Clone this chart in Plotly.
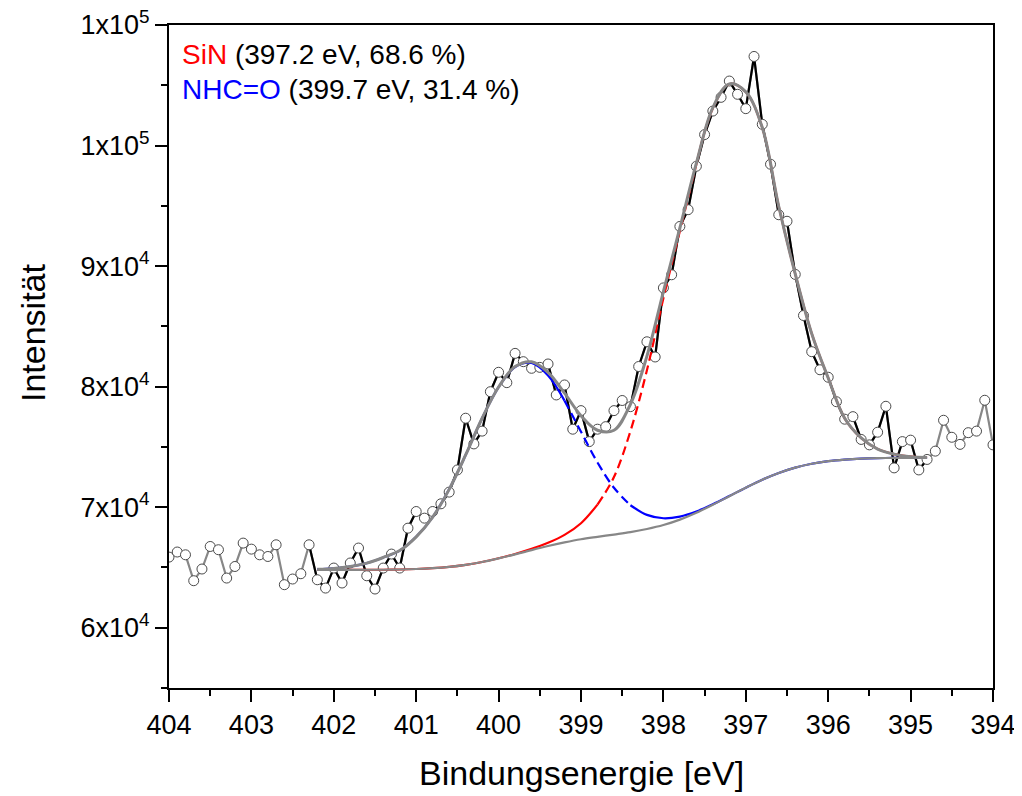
import plotly.graph_objects as go

# ---------------- data ----------------
energy = [404.0, 403.9, 403.8, 403.7, 403.6, 403.5, 403.4, 403.3, 403.2, 403.1,
          403.0, 402.9, 402.8, 402.7, 402.6, 402.5, 402.4, 402.3, 402.2, 402.1,
          402.0, 401.9, 401.8, 401.7, 401.6, 401.5, 401.4, 401.3, 401.2, 401.1,
          401.0, 400.9, 400.8, 400.7, 400.6, 400.5, 400.4, 400.3, 400.2, 400.1,
          400.0, 399.9, 399.8, 399.7, 399.6, 399.5, 399.4, 399.3, 399.2, 399.1,
          399.0, 398.9, 398.8, 398.7, 398.6, 398.5, 398.4, 398.3, 398.2, 398.1,
          398.0, 397.9, 397.8, 397.7, 397.6, 397.5, 397.4, 397.3, 397.2, 397.1,
          397.0, 396.9, 396.8, 396.7, 396.6, 396.5, 396.4, 396.3, 396.2, 396.1,
          396.0, 395.9, 395.8, 395.7, 395.6, 395.5, 395.4, 395.3, 395.2, 395.1,
          395.0, 394.9, 394.8, 394.7, 394.6, 394.5, 394.4, 394.3, 394.2, 394.1,
          394.0]

intensity = [65860, 66280, 66050, 63900, 64870, 66740, 66470, 64120, 65080, 67020,
             66520, 66050, 65910, 66880, 63570, 64040, 64480, 66880, 63980, 63290,
             64950, 63710, 65370, 66610, 64310, 63210, 64950, 66110, 64950, 68260,
             69640, 69090, 69640, 70280, 71250, 73090, 77380, 75250, 76310, 79580,
             81190, 80330, 82760, 82070, 81520, 81600, 81880, 79310, 80140, 76470,
             78010, 75440, 76470, 76680, 78010, 78850, 78340, 81670, 83720, 82460,
             88190, 89280, 93290, 94680, 98280, 100910, 102860, 104000, 105350, 104250,
             103060, 107390, 101760, 98450, 94260, 93720, 89310, 85900, 82900, 81400,
             80780, 78750, 77300, 77510, 75620, 75170, 76220, 78370, 73260, 75440,
             75560, 73090, 73960, 74650, 77210, 75800, 75210, 76180, 76310, 78870,
             75170]

# fit region of the measured data (black line)
fit_data_high = 402.3
fit_data_low = 394.8

# fitted curves (read at 0.2 eV steps)
fit_energy = [402.2, 402.0, 401.8, 401.6, 401.4, 401.2, 401.0, 400.8, 400.6, 400.4,
              400.2, 400.0, 399.8, 399.6, 399.4, 399.2, 399.0, 398.8, 398.6, 398.4,
              398.2, 398.0, 397.8, 397.6, 397.4, 397.2, 397.0, 396.8, 396.6, 396.4,
              396.2, 396.0, 395.8, 395.6, 395.4, 395.2, 395.0, 394.8]

background = [64800, 64800, 64800, 64810, 64810, 64830, 64870, 64940, 65050, 65220,
              65450, 65750, 66080, 66440, 66780, 67080, 67340, 67540, 67730, 67930,
              68190, 68520, 68970, 69540, 70200, 70910, 71620, 72280, 72840, 73280,
              73600, 73820, 73950, 74030, 74070, 74090, 74090, 74100]

sin_comp = [0, 0, 0, 0, 0, 0, 0, 0, 0, 0,
            0, 10, 35, 100, 260, 620, 1330, 2670, 4770, 8380,
            13170, 18810, 23940, 28900, 32900, 34200, 32830, 29210, 22100, 16070,
            10800, 6900, 3420, 1710, 750, 310, 100, 30]

nhco_comp = [50, 120, 280, 550, 1020, 1570, 2670, 4240, 6430, 9110,
             11930, 14210, 15550, 15520, 14150, 11760, 8920, 6170, 3880, 2230,
             1170, 560, 250, 100, 40, 10, 0, 0, 0, 0,
             0, 0, 0, 0, 0, 0, 0, 0]

# dashed portions of the component curves
sin_dash_range = (398.8, 397.6)
nhco_dash_range = (399.2, 398.4)

x_ticks = [404, 403, 402, 401, 400, 399, 398, 397, 396, 395, 394]
y_tickvals = [60000, 70000, 80000, 90000, 100000, 110000]
y_ticktext = ["6x10<sup>4</sup>", "7x10<sup>4</sup>", "8x10<sup>4</sup>",
              "9x10<sup>4</sup>", "1x10<sup>5</sup>", "1x10<sup>5</sup>"]

label_sin = ("SiN", " (397.2 eV, 68.6 %)")
label_nhco = ("NHC=O", " (399.7 eV, 31.4 %)")

# ---------------- derived curves ----------------
sin_curve = [b + s for b, s in zip(background, sin_comp)]
nhco_curve = [b + n for b, n in zip(background, nhco_comp)]
envelope = [b + s + n for b, s, n in zip(background, sin_comp, nhco_comp)]


def segment(xs, ys, hi, lo):
    px = [x for x in xs if lo - 1e-9 <= x <= hi + 1e-9]
    py = [y for x, y in zip(xs, ys) if lo - 1e-9 <= x <= hi + 1e-9]
    return px, py


FONT = "Arial, 'Liberation Sans', sans-serif"
GRAY = "#878787"

fig = go.Figure()

# measured data lines
fig.add_trace(go.Scatter(x=energy, y=intensity, mode="lines",
                         line=dict(color=GRAY, width=2.2), hoverinfo="skip"))
fx, fy = segment(energy, intensity, fit_data_high, fit_data_low)
fig.add_trace(go.Scatter(x=fx, y=fy, mode="lines",
                         line=dict(color="black", width=2.2), hoverinfo="skip"))
# data markers
fig.add_trace(go.Scatter(x=energy, y=intensity, mode="markers",
                         marker=dict(symbol="circle", size=10, color="white",
                                     line=dict(color="#4a4a4a", width=1)),
                         hoverinfo="skip"))


def add_component(curve, color, dash_range):
    hi, lo = dash_range
    parts = [
        (segment(fit_energy, curve, fit_energy[0], hi), "solid"),
        (segment(fit_energy, curve, hi, lo), "9px,5px"),
        (segment(fit_energy, curve, lo, fit_energy[-1]), "solid"),
    ]
    for (px, py), dash in parts:
        fig.add_trace(go.Scatter(x=px, y=py, mode="lines", line_shape="spline",
                                 line=dict(color=color, width=2.2, dash=dash),
                                 hoverinfo="skip"))


add_component(sin_curve, "#ff0000", sin_dash_range)
add_component(nhco_curve, "#0000ff", nhco_dash_range)

# background (drawn over the components, as in the reference)
fig.add_trace(go.Scatter(x=fit_energy, y=background, mode="lines", line_shape="spline",
                         line=dict(color=GRAY, width=2.2), hoverinfo="skip"))

# envelope
fig.add_trace(go.Scatter(x=fit_energy, y=envelope, mode="lines", line_shape="spline",
                         line=dict(color=GRAY, width=3), hoverinfo="skip"))

axis_common = dict(
    showline=True, linecolor="black", linewidth=2, mirror=True,
    ticks="outside", ticklen=12, tickwidth=2, tickcolor="black",
    showgrid=False, zeroline=False, automargin=False,
    ticklabeloverflow="allow",
    tickfont=dict(family=FONT, size=27, color="black"),
)

fig.update_xaxes(range=[404, 394], tickvals=x_ticks,
                 ticktext=[str(t) for t in x_ticks],
                 minor=dict(ticks="outside", ticklen=6, tickwidth=2,
                            tickcolor="black", dtick=0.5, tick0=394),
                 **axis_common)
fig.update_yaxes(range=[55000, 110000], tickvals=y_tickvals, ticktext=y_ticktext,
                 minor=dict(ticks="outside", ticklen=6, tickwidth=2,
                            tickcolor="black", dtick=5000, tick0=0),
                 **axis_common)

fig.add_annotation(xref="paper", yref="paper", x=0.5, y=-0.128,
                   text="Bindungsenergie [eV]", showarrow=False,
                   xanchor="center", yanchor="middle",
                   font=dict(family=FONT, size=34, color="black"))
fig.add_annotation(xref="paper", yref="paper", x=-0.165, y=0.5355,
                   text="Intensität", showarrow=False, textangle=-90,
                   xanchor="center", yanchor="middle",
                   font=dict(family=FONT, size=34, color="black"))

fig.add_annotation(xref="paper", yref="paper", x=0.0134, y=0.956,
                   text=f"<span style='color:#ff0000'>{label_sin[0]}</span>{label_sin[1]}",
                   showarrow=False, xanchor="left", yanchor="middle",
                   font=dict(family=FONT, size=28, color="black"))
fig.add_annotation(xref="paper", yref="paper", x=0.0134, y=0.9023,
                   text=f"<span style='color:#0000ff'>{label_nhco[0]}</span>{label_nhco[1]}",
                   showarrow=False, xanchor="left", yanchor="middle",
                   font=dict(family=FONT, size=28, color="black"))

# the page body adds an 8 px offset, so the figure is 8 px smaller and shifted
fig.update_layout(
    width=1014, height=788,
    margin=dict(l=161, r=29, t=17, b=108, autoexpand=False),
    paper_bgcolor="white", plot_bgcolor="white",
    showlegend=False,
    font=dict(family=FONT, color="black"),
)

fig.write_html("out.html")
